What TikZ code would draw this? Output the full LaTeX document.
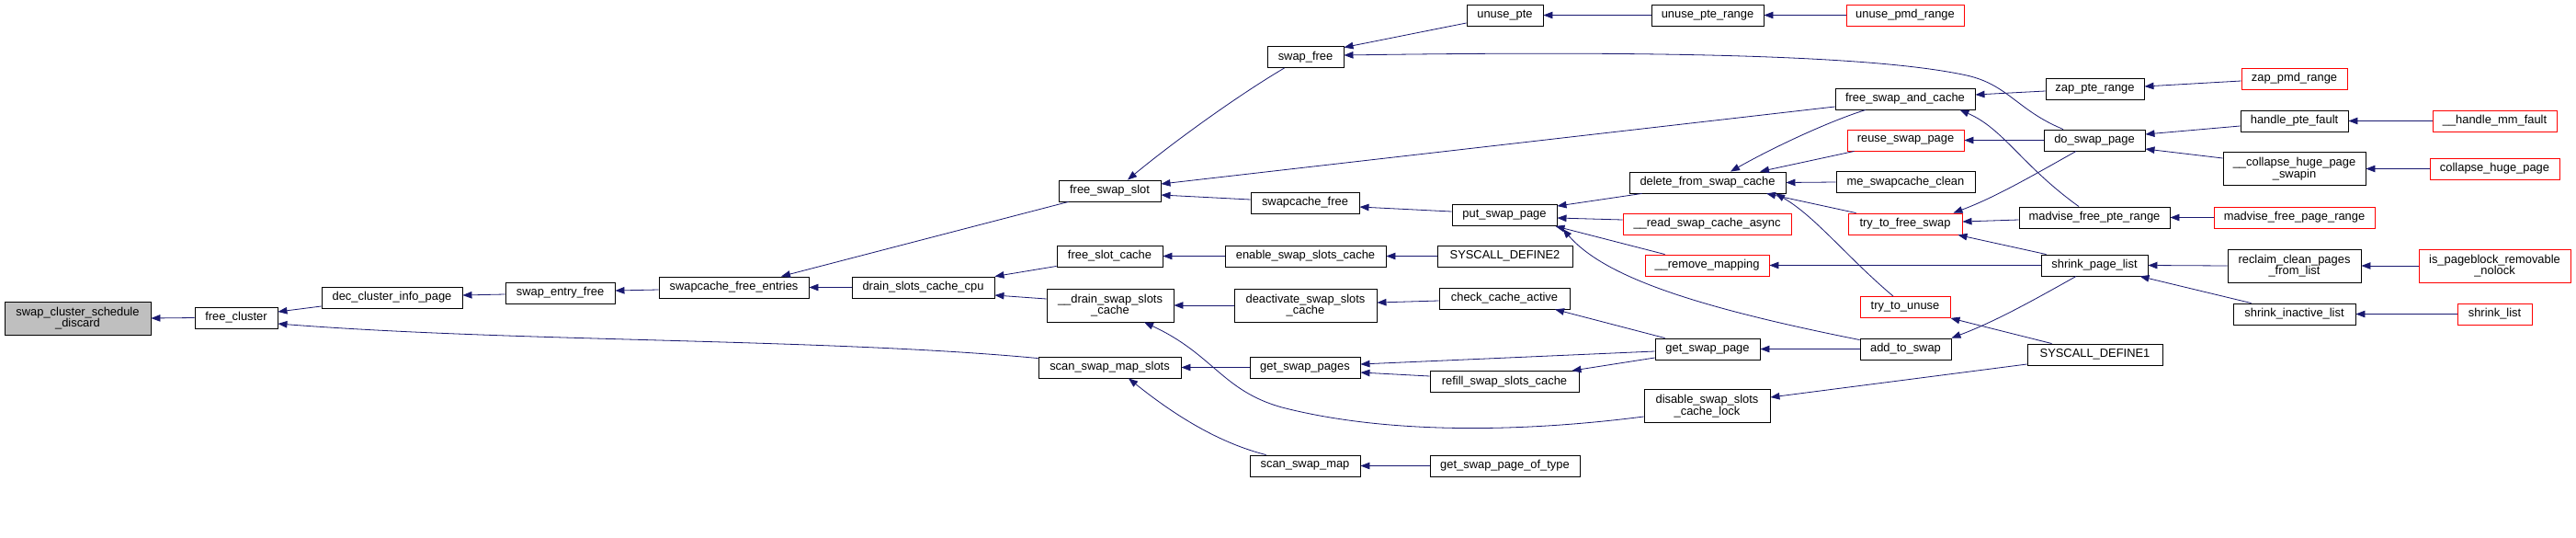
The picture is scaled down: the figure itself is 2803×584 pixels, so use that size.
\documentclass[tikz,border=0pt]{standalone}
\usepackage{fontspec}
\setmainfont{Liberation Sans}
\usetikzlibrary{arrows.meta}
\definecolor{edgec}{HTML}{191970}
\definecolor{rootfill}{HTML}{BFBFBF}
\newcommand\fnfont{\fontsize{12.9pt}{12.5pt}\selectfont}
\tikzset{
  fn/.style={draw=black, line width=0.9pt, fill=white, inner sep=0pt, font=\fnfont, align=center, minimum height=23pt},
  trunc/.style={fn, draw=red},
  rootnode/.style={fn, fill=rootfill},
  e/.style={draw=edgec, line width=0.8pt, -{Triangle[length=10pt,width=7.5pt]}},
}
\begin{document}
\begin{tikzpicture}[x=1pt,y=-1pt]
\fill[white] (0,0) rectangle (2803,584);
\useasboundingbox (0,0) rectangle (2803,584);
% column 0-5
\node[rootnode, minimum width=159pt, minimum height=36pt] (disc) at (84.5,346) {swap\_cluster\_schedule\\\_discard};
\node[fn, minimum width=90pt] (fc) at (257,345.5) {free\_cluster};
\node[fn, minimum width=153pt] (dec) at (426.5,323.5) {dec\_cluster\_info\_page};
\node[fn, minimum width=119pt] (sef) at (609.5,318.5) {swap\_entry\_free};
\node[fn, minimum width=163pt] (sfe) at (798.5,312.5) {swapcache\_free\_entries};
\node[fn, minimum width=155pt] (dscc) at (1004.5,312.5) {drain\_slots\_cache\_cpu};
% column 6
\node[fn, minimum width=111pt] (fss) at (1207.5,207.5) {free\_swap\_slot};
\node[fn, minimum width=115pt] (fsc) at (1207.5,278.5) {free\_slot\_cache};
\node[fn, minimum width=138pt, minimum height=36pt] (dsc) at (1208,332) {\_\_drain\_swap\_slots\\\_cache};
\node[fn, minimum width=155pt] (ssms) at (1207.5,399.5) {scan\_swap\_map\_slots};
% column 7
\node[fn, minimum width=83pt] (sf) at (1420.5,62) {swap\_free};
\node[fn, minimum width=118pt] (scf) at (1420,220.5) {swapcache\_free};
\node[fn, minimum width=175pt] (ess) at (1420.5,278.5) {enable\_swap\_slots\_cache};
\node[fn, minimum width=155pt, minimum height=36pt] (dea) at (1420.5,332) {deactivate\_swap\_slots\\\_cache};
\node[fn, minimum width=120pt] (gsps) at (1420,399.5) {get\_swap\_pages};
\node[fn, minimum width=120pt] (ssm) at (1420,506.5) {scan\_swap\_map};
% column 8
\node[fn, minimum width=83pt] (up) at (1637.5,16.5) {unuse\_pte};
\node[fn, minimum width=114pt] (psp) at (1637,234) {put\_swap\_page};
\node[fn, minimum width=147pt] (sd2) at (1637.5,278.5) {SYSCALL\_DEFINE2};
\node[fn, minimum width=142pt] (cca) at (1637,324.5) {check\_cache\_active};
\node[fn, minimum width=162pt] (rssc) at (1637,415) {refill\_swap\_slots\_cache};
\node[fn, minimum width=163pt] (gspot) at (1637.5,506.5) {get\_swap\_page\_of\_type};
% column 9
\node[fn, minimum width=122pt] (upr) at (1858,16.5) {unuse\_pte\_range};
\node[fn, minimum width=170pt] (dfsc) at (1858,198.5) {delete\_from\_swap\_cache};
\node[trunc, minimum width=183pt] (rsca) at (1857.5,243.5) {\_\_read\_swap\_cache\_async};
\node[trunc, minimum width=135pt] (rm) at (1857.5,288.5) {\_\_remove\_mapping};
\node[fn, minimum width=114pt] (gsp) at (1858,379.5) {get\_swap\_page};
\node[fn, minimum width=137pt, minimum height=36pt] (dsscl) at (1857.5,441.5) {disable\_swap\_slots\\\_cache\_lock};
% column 10
\node[trunc, minimum width=128pt] (upmd) at (2073,16.5) {unuse\_pmd\_range};
\node[fn, minimum width=152pt] (fsac) at (2073,107.5) {free\_swap\_and\_cache};
\node[trunc, minimum width=127pt] (rsp) at (2073.5,152.5) {reuse\_swap\_page};
\node[fn, minimum width=151pt] (msc) at (2073.5,198) {me\_swapcache\_clean};
\node[trunc, minimum width=124pt] (ttfs) at (2073,243.5) {try\_to\_free\_swap};
\node[trunc, minimum width=98pt] (ttu) at (2073,334) {try\_to\_unuse};
\node[fn, minimum width=99pt] (ats) at (2073.5,379.5) {add\_to\_swap};
% column 11
\node[fn, minimum width=107pt] (zpr) at (2279.5,96.5) {zap\_pte\_range};
\node[fn, minimum width=110pt] (dsp) at (2279,152.5) {do\_swap\_page};
\node[fn, minimum width=164pt] (mfpr) at (2279,236.5) {madvise\_free\_pte\_range};
\node[fn, minimum width=116pt] (spl) at (2279,288.5) {shrink\_page\_list};
\node[fn, minimum width=147pt] (sd1) at (2279.5,385.5) {SYSCALL\_DEFINE1};
% column 12
\node[trunc, minimum width=115pt] (zpmd) at (2496.5,85.5) {zap\_pmd\_range};
\node[fn, minimum width=117pt] (hpf) at (2496.5,131.5) {handle\_pte\_fault};
\node[fn, minimum width=155pt, minimum height=36pt] (chps) at (2496.5,183.5) {\_\_collapse\_huge\_page\\\_swapin};
\node[trunc, minimum width=175pt] (mfpgr) at (2496.5,236.5) {madvise\_free\_page\_range};
\node[fn, minimum width=145pt, minimum height=36pt] (rcpl) at (2496.5,289) {reclaim\_clean\_pages\\\_from\_list};
\node[fn, minimum width=133pt] (sil) at (2496.5,341.5) {shrink\_inactive\_list};
% column 13
\node[trunc, minimum width=135pt] (hmf) at (2714.5,131.5) {\_\_handle\_mm\_fault};
\node[trunc, minimum width=141pt] (chp) at (2714.5,183.5) {collapse\_huge\_page};
\node[trunc, minimum width=165pt, minimum height=36pt] (ipr) at (2714.5,289) {is\_pageblock\_removable\\\_nolock};
\node[trunc, minimum width=81pt] (sl) at (2714.5,341.5) {shrink\_list};
% edges (caller -> callee)
\draw[e] (fc.west) -- (disc.east);
\draw[e] ([yshift=-9.5pt]dec.west) -- ([yshift=6.5pt]fc.east);
\draw[e] ([yshift=-2pt]ssms.north west) .. controls (900,368) and (560,372) .. ([yshift=-6.5pt]fc.east);
\draw[e] ([yshift=-1.5pt]sef.west) -- ([yshift=2.5pt]dec.east);
\draw[e] ([yshift=-2.5pt]sfe.west) -- ([yshift=2.5pt]sef.east);
\draw[e] ([xshift=11pt]fss.south west) -- ([xshift=51.5pt]sfe.north);
\draw[e] (dscc.west) -- (sfe.east);
\draw[e] ([yshift=1pt]fsc.south west) -- (dscc.north east);
\draw[e] ([yshift=7pt]dsc.west) -- ([yshift=-8.5pt]dscc.east);
\draw[e] ([xshift=19pt]sf.south west) .. controls (1340,108) and (1270,160) .. ([xshift=19.5pt]fss.north);
\draw[e] ([yshift=-8.5pt]fsac.west) -- ([yshift=7.5pt]fss.east);
\draw[e] ([yshift=3.5pt]scf.west) -- ([yshift=-4.5pt]fss.east);
\draw[e] ([yshift=-8.5pt]up.west) -- ([yshift=-1.5pt]sf.north east);
\draw[e] ([xshift=-34pt]dsp.north) .. controls (2195,120) and (2185,92) .. (2140,82) .. controls (2040,60) and (1800,55) .. ([yshift=2pt]sf.east);
\draw[e] (upr.west) -- (up.east);
\draw[e] (upmd.west) -- (upr.east);
\draw[e] ([yshift=4pt]psp.west) -- ([yshift=-4.5pt]scf.east);
\draw[e] ([xshift=14pt]dfsc.south west) -- ([yshift=-2pt]psp.north east);
\draw[e] ([yshift=4.5pt]rsca.west) -- ([yshift=-3pt]psp.east);
\draw[e] ([xshift=22pt]rm.north west) -- ([xshift=-2pt]psp.south east);
\draw[e] ([yshift=-2pt]ats.north west) .. controls (1840,333) and (1745,300) .. ([xshift=6pt,yshift=-3pt]psp.south east);
\draw[e] (ess.west) -- (fsc.east);
\draw[e] (sd2.west) -- (ess.east);
\draw[e] (dea.west) -- (dsc.east);
\draw[e] ([yshift=-11.5pt]dsscl.west) .. controls (1640,472) and (1500,470) .. (1395,443) .. controls (1330,425) and (1320,385) .. ([xshift=37pt]dsc.south);
\draw[e] ([yshift=-2.5pt]cca.west) -- ([yshift=3pt]dea.east);
\draw[e] ([xshift=11pt]gsp.north west) -- ([xshift=55pt]cca.south);
\draw[e] (gsps.west) -- (ssms.east);
\draw[e] ([xshift=18pt]ssm.north west) .. controls (1320,480) and (1270,445) .. ([xshift=20.5pt]ssms.south);
\draw[e] ([yshift=-2.5pt]gsp.west) -- ([yshift=3.5pt]gsps.east);
\draw[e] ([yshift=6pt]rssc.west) -- ([yshift=-5.5pt]gsps.east);
\draw[e] ([yshift=-9.5pt]gsp.west) -- ([xshift=-8pt]rssc.north east);
\draw[e] (gspot.west) -- (ssm.east);
\draw[e] (ats.west) -- (gsp.east);
\draw[e] ([xshift=-43pt]fsac.south) .. controls (1990,132) and (1930,160) .. ([xshift=25pt]dfsc.north);
\draw[e] ([xshift=8pt]rsp.south west) -- ([xshift=57pt]dfsc.north);
\draw[e] (msc.west) -- (dfsc.east);
\draw[e] ([xshift=9pt]ttfs.north west) -- ([xshift=64pt]dfsc.south);
\draw[e] ([xshift=-13pt]ttu.north) .. controls (2010,280) and (1975,235) .. ([xshift=74pt]dfsc.south);
\draw[e] (spl.west) -- (rm.east);
\draw[e] ([yshift=-2.5pt]zpr.west) -- ([yshift=4.5pt]fsac.east);
\draw[e] ([xshift=-17pt]mfpr.north) .. controls (2200,180) and (2180,140) .. ([xshift=-17pt]fsac.south east);
\draw[e] (dsp.west) -- (rsp.east);
\draw[e] ([xshift=-20pt]dsp.south) .. controls (2210,192) and (2170,215) .. ([xshift=-10pt]ttfs.north east);
\draw[e] ([yshift=-2.5pt]mfpr.west) -- ([yshift=2.5pt]ttfs.east);
\draw[e] ([xshift=6pt]spl.north west) -- ([xshift=-5pt]ttfs.south east);
\draw[e] ([xshift=27pt]sd1.north west) -- (ttu.south east);
\draw[e] ([xshift=-20pt]spl.south) .. controls (2210,328) and (2170,350) .. (ats.north east);
\draw[e] ([yshift=-10.5pt]sd1.west) -- ([yshift=9.5pt]dsscl.east);
\draw[e] ([yshift=-2.5pt]zpmd.west) -- ([yshift=2.5pt]zpr.east);
\draw[e] ([yshift=-5.5pt]hpf.west) -- ([yshift=6.5pt]dsp.east);
\draw[e] ([yshift=11.5pt]chps.west) -- ([yshift=-9.5pt]dsp.east);
\draw[e] (hmf.west) -- (hpf.east);
\draw[e] (chp.west) -- (chps.east);
\draw[e] (mfpgr.west) -- (mfpr.east);
\draw[e] (rcpl.west) -- (spl.east);
\draw[e] ([xshift=20pt]sil.north west) -- ([xshift=-9pt]spl.south east);
\draw[e] (ipr.west) -- (rcpl.east);
\draw[e] (sl.west) -- (sil.east);
\end{tikzpicture}
\end{document}
